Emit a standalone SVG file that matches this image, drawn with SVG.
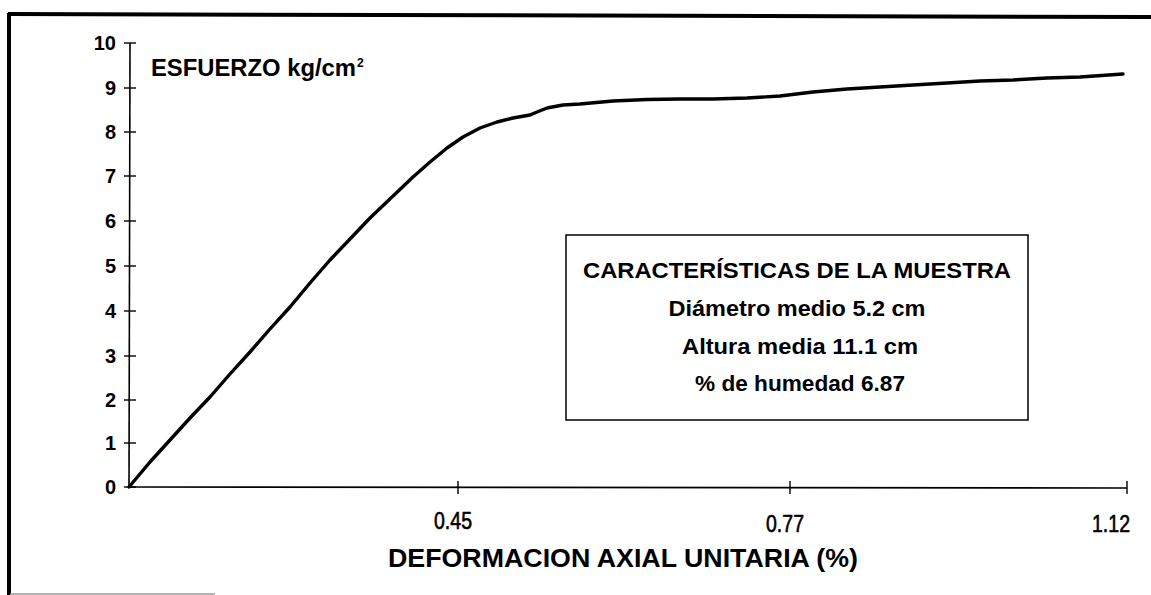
<svg xmlns="http://www.w3.org/2000/svg" width="1151" height="595" viewBox="0 0 1151 595">
  <style>
    .frame { stroke: #000; stroke-width: 4; fill: none; }
    .axis { stroke: #000; stroke-width: 1.6; fill: none; }
    .tick { stroke: #000; stroke-width: 1.4; }
    .curve { stroke: #000; stroke-width: 3.4; fill: none; stroke-linejoin: round; stroke-linecap: round; }
    .ylab { font-family: "Liberation Sans", Arial, sans-serif; font-weight: bold; font-size: 20px; fill: #000; text-anchor: end; }
    .xlab { font-family: "Liberation Sans", Arial, sans-serif; font-size: 24px; fill: #000; stroke: #000; stroke-width: 0.6; text-anchor: middle; }
    .title { font-family: "Liberation Sans", Arial, sans-serif; font-weight: bold; font-size: 23px; fill: #000; }
    .sup { font-family: "Liberation Sans", Arial, sans-serif; font-weight: bold; font-size: 12px; fill: #000; }
    .xtitle { font-family: "Liberation Sans", Arial, sans-serif; font-weight: bold; font-size: 25px; fill: #000; }
    .box { stroke: #000; stroke-width: 1.5; fill: #fff; }
    .boxtxt { font-family: "Liberation Sans", Arial, sans-serif; font-weight: bold; font-size: 22px; fill: #000; text-anchor: middle; }
  </style>
  <rect width="1151" height="595" fill="#fff"/>
  <g id="frame">
    <line class="frame" x1="8" y1="14" x2="1151" y2="17"/>
    <line class="frame" x1="9" y1="13" x2="9" y2="595"/>
    <line x1="10" y1="594" x2="215" y2="594" stroke="#999" stroke-width="1.5"/>
  </g>
  <g id="y-axis">
    <line class="axis" x1="130" y1="43" x2="129" y2="488"/>
    <g class="tick">
      <line x1="124" y1="43" x2="136" y2="43"/>
      <line x1="124" y1="88" x2="136" y2="88"/>
      <line x1="124" y1="132" x2="136" y2="132"/>
      <line x1="124" y1="176" x2="136" y2="176"/>
      <line x1="124" y1="221" x2="136" y2="221"/>
      <line x1="124" y1="266" x2="136" y2="266"/>
      <line x1="124" y1="311" x2="136" y2="311"/>
      <line x1="124" y1="356" x2="136" y2="356"/>
      <line x1="124" y1="400" x2="136" y2="400"/>
      <line x1="124" y1="443" x2="136" y2="443"/>
      <line x1="124" y1="487" x2="136" y2="487"/>
    </g>
    <text class="ylab" x="116" y="50">10</text>
    <text class="ylab" x="116" y="95">9</text>
    <text class="ylab" x="116" y="139">8</text>
    <text class="ylab" x="116" y="183">7</text>
    <text class="ylab" x="116" y="228">6</text>
    <text class="ylab" x="116" y="273">5</text>
    <text class="ylab" x="116" y="318">4</text>
    <text class="ylab" x="116" y="363">3</text>
    <text class="ylab" x="116" y="407">2</text>
    <text class="ylab" x="116" y="450">1</text>
    <text class="ylab" x="116" y="494">0</text>
    <text class="title" x="151" y="76" textLength="205" lengthAdjust="spacingAndGlyphs">ESFUERZO kg/cm</text>
    <text class="sup" x="357" y="67">2</text>
  </g>
  <g id="x-axis">
    <line class="axis" x1="129" y1="487" x2="1127" y2="488"/>
    <g class="tick">
      <line x1="458" y1="481" x2="458" y2="494"/>
      <line x1="790" y1="481" x2="790" y2="494"/>
      <line x1="1127" y1="481" x2="1127" y2="494"/>
    </g>
    <text class="xlab" x="453" y="529" textLength="38" lengthAdjust="spacingAndGlyphs">0.45</text>
    <text class="xlab" x="785" y="532" textLength="38" lengthAdjust="spacingAndGlyphs">0.77</text>
    <text class="xlab" x="1111" y="532" textLength="38" lengthAdjust="spacingAndGlyphs">1.12</text>
    <text class="xtitle" x="388" y="567" textLength="470" lengthAdjust="spacingAndGlyphs">DEFORMACION AXIAL UNITARIA (%)</text>
  </g>
  <g id="connectors">
    <polyline class="curve" points="129,487 150,462 170,440 190,418 210,397 230,374 250,352 270,329 290,307 310,283 330,260 350,239 370,218 392,197 413,177 430,162 447,148 463,137 480,128 497,122 513,118 530,115 537,112 547,108 563,105 580,104 613,101 647,99.5 680,99 713,99 747,98 780,96 813,92 847,89 880,87 913,85 947,83 980,81 1013,80 1047,78 1080,77 1123,74"/>
  </g>
  <g id="info-box">
    <rect class="box" x="566" y="235" width="462" height="185"/>
    <text class="boxtxt" x="797" y="278" textLength="428" lengthAdjust="spacingAndGlyphs">CARACTERÍSTICAS DE LA MUESTRA</text>
    <text class="boxtxt" x="797" y="316" textLength="257" lengthAdjust="spacingAndGlyphs">Diámetro medio 5.2 cm</text>
    <text class="boxtxt" x="800" y="354" textLength="236" lengthAdjust="spacingAndGlyphs">Altura media 11.1 cm</text>
    <text class="boxtxt" x="800" y="391" textLength="210" lengthAdjust="spacingAndGlyphs">% de humedad 6.87</text>
  </g>
</svg>
